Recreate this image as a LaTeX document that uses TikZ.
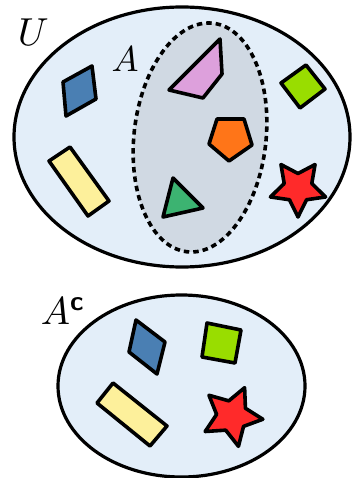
\documentclass[tikz,border=0pt]{standalone}
\usepackage{amsmath}
\usetikzlibrary{shapes.geometric}
\definecolor{ubg}{HTML}{E3EEF9}
\definecolor{abg}{HTML}{D0D9E3}
\definecolor{cblue}{HTML}{4A7FB3}
\definecolor{cyellow}{HTML}{FDF09B}
\definecolor{cpink}{HTML}{DDA0DC}
\definecolor{clime}{HTML}{99DD00}
\definecolor{corange}{HTML}{FF7518}
\definecolor{cgreen}{HTML}{3CB371}
\definecolor{cred}{HTML}{FF2A2A}
\tikzset{
  setline/.style={draw=black, line width=3.2pt, fill=ubg},
  subsetline/.style={draw=black, line width=3.6pt, dash pattern=on 5.5pt off 4pt, fill=abg},
  piece/.style={draw=black, line width=3.6pt, line join=round},
  starpiece/.style={piece, star, star points=5, star point ratio=2.0, inner sep=0pt},
  lbl/.style={inner sep=0pt, anchor=north west}
}
\begin{document}
\begin{tikzpicture}[x=1pt, y=-1pt]
\useasboundingbox (0,0) rectangle (352,478);
% universe
\draw[setline] (182,137) ellipse [x radius=168, y radius=130];
\draw[subsetline, rotate around={-6.5:(200,137.5)}] (200,137.5) ellipse [x radius=66, y radius=115];
\node[lbl, scale=3.9] (U) at (17,18) {$U$};
\node[lbl, scale=3.6] (A) at (111,46) {$A$};
% shapes outside A
\draw[piece, fill=cblue] (63,82) -- (92,66) -- (96,99) -- (66,116) -- cycle;
\draw[piece, fill=cyellow] (49,161) -- (70,147) -- (109,201) -- (88,216) -- cycle;
\draw[piece, fill=clime] (281,83) -- (306,65) -- (325,89) -- (300,108) -- cycle;
\node[starpiece, fill=cred, minimum size=58pt, rotate=180] (s1) at (298,188) {};
% shapes inside A
\draw[piece, fill=cpink] (169,90) -- (220,39) -- (222,74) -- (203,98) -- cycle;
\draw[piece, fill=corange] (217,119) -- (244,119) -- (252,145) -- (229,161) -- (209,144) -- cycle;
\draw[piece, fill=cgreen] (173,178) -- (203,208) -- (163,217) -- cycle;
% complement
\draw[setline] (181.5,386) ellipse [x radius=123.5, y radius=91];
\node[lbl, scale=3.9] (Ac) at (40,297) {$A^{\text{\sffamily\bfseries c}}$};
\draw[piece, fill=cblue] (136,320) -- (165,342) -- (157,374) -- (129,352) -- cycle;
\draw[piece, fill=clime] (207,323) -- (241,330) -- (235,363) -- (202,357) -- cycle;
\draw[piece, fill=cyellow] (97,403) -- (113,383) -- (167,426) -- (150,446) -- cycle;
\node[starpiece, fill=cred, minimum size=62pt, rotate=-24] (s2) at (232,416) {};
\end{tikzpicture}
\end{document}
